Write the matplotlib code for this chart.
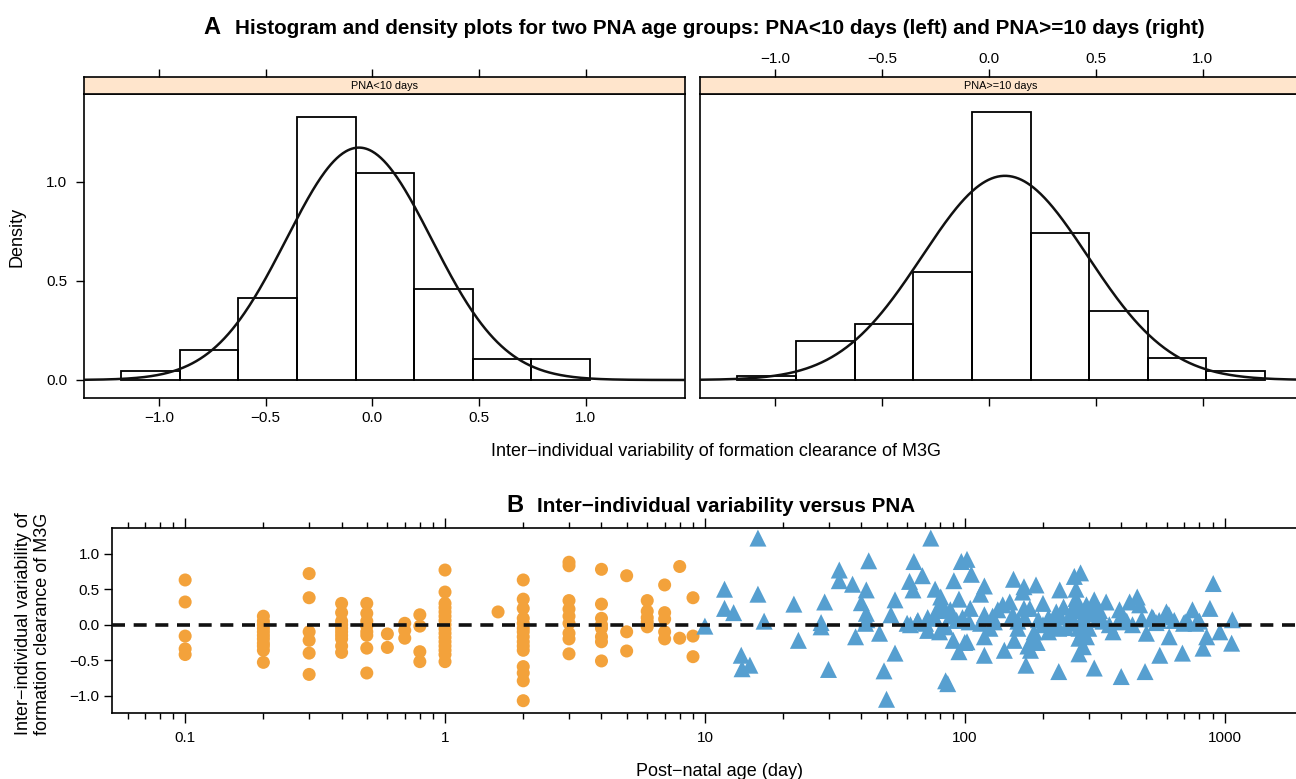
import numpy as np
import matplotlib
matplotlib.use("Agg")
import matplotlib.pyplot as plt
from matplotlib.ticker import LogLocator, FixedLocator, NullFormatter, FixedFormatter

plt.rcParams['font.family'] = ['Liberation Sans', 'DejaVu Sans']

# ---------------- Panel A data ----------------
bin_edges = [-1.176, -0.902, -0.628, -0.354, -0.079, 0.195, 0.469, 0.743, 1.017, 1.291]
density_lt10 = [0.046, 0.152, 0.414, 1.326, 1.044, 0.458, 0.108, 0.108]
density_ge10 = [0.022, 0.197, 0.285, 0.545, 1.354, 0.742, 0.350, 0.109, 0.044]
fit_lt10 = (-0.063, 0.340)   # mean, sd of fitted normal density
fit_ge10 = (0.075, 0.387)
strip_labels = ["PNA<10 days", "PNA>=10 days"]
a_xticks = [-1.0, -0.5, 0.0, 0.5, 1.0]
a_xticklabels = ["\u22121.0", "\u22120.5", "0.0", "0.5", "1.0"]
a_yticks = [0.0, 0.5, 1.0]
a_yticklabels = ["0.0", "0.5", "1.0"]

# ---------------- Panel B data ----------------
young_ages = [0.1, 0.2, 0.3, 0.4, 0.5, 0.6, 0.7, 0.8, 1.0, 1.6, 2.0, 3.0, 4.0, 5.0, 6.0, 7.0, 8.0, 9.0]
young_values = [
    [0.63, 0.32, -0.16, -0.34, -0.42],
    [0.12, 0.05, 0.0, -0.05, -0.10, -0.15, -0.20, -0.26, -0.30, -0.36, -0.53],
    [0.72, 0.38, -0.10, -0.22, -0.40, -0.70],
    [0.30, 0.17, 0.05, 0.0, -0.05, -0.10, -0.15, -0.20, -0.30, -0.39],
    [0.30, 0.16, 0.05, -0.02, -0.10, -0.15, -0.33, -0.68],
    [-0.13, -0.32],
    [0.02, -0.08, -0.19],
    [0.14, -0.02, -0.38, -0.52],
    [0.77, 0.46, 0.30, 0.24, 0.18, 0.12, 0.06, 0.0, -0.06, -0.12, -0.18, -0.24, -0.30, -0.36, -0.42, -0.52],
    [0.18],
    [0.63, 0.36, 0.23, 0.09, 0.02, -0.05, -0.10, -0.17, -0.24, -0.30, -0.36, -0.59, -0.68, -0.79, -1.07],
    [0.88, 0.83, 0.34, 0.22, 0.12, 0.02, -0.12, -0.20, -0.41],
    [0.78, 0.29, 0.09, 0.0, -0.05, -0.17, -0.24, -0.51],
    [0.69, -0.10, -0.37],
    [0.34, 0.19, 0.10, 0.04, -0.03],
    [0.56, 0.17, 0.08, -0.10, -0.20],
    [0.82, -0.19],
    [0.38, -0.16, -0.45],
]
old_points = [
    (10.0, -0.02), (11.9, 0.50), (11.9, 0.23), (12.9, 0.17), (16.0, 1.22), (16.0, 0.43), (16.9, 0.05),
    (13.8, -0.43), (13.9, -0.62), (14.9, -0.57),
    (22.0, 0.29), (22.9, -0.22), (28.9, 0.32), (28.0, 0.03), (28.0, -0.03), (29.9, -0.63),
    (32.9, 0.77), (32.9, 0.62), (37.0, 0.57), (38.0, -0.17), (42.7, 0.90), (41.8, 0.49), (40.0, 0.31),
    (41.8, 0.16), (42.0, 0.07), (41.5, 0.02), (47.0, -0.12), (48.9, -0.65), (50.0, -1.05), (53.9, -0.40),
    (52.0, 0.14), (53.9, 0.35), (61.3, 0.61), (63.2, 0.49), (63.7, 0.89), (68.7, 0.69), (61.8, 0.0),
    (65.6, 0.04), (70.7, 0.02), (74.0, 1.22), (76.9, 0.50), (80.8, 0.39), (76.9, 0.09), (83.2, 0.24),
    (84.4, -0.03), (90.3, -0.22), (95.0, -0.38), (90.8, 0.62), (95.0, 0.36), (97.0, 0.89), (102.0, 0.92),
    (84.4, -0.79), (86.0, -0.83), (88.0, 0.21), (100.0, -0.25),
    (60, 0.02), (66, 0.06), (72, 0.10), (78, 0.20), (82, 0.28), (88, 0.12), (93, 0.06), (98, 0.10),
    (72, -0.08), (80, -0.10),
    (106, 0.71), (119, 0.545), (115, 0.43), (154, 0.64), (169, 0.535), (188, 0.56), (167, 0.46), (232, 0.49),
    (264, 0.68), (279, 0.73), (268, 0.50), (268, 0.37), (149, 0.32), (134, 0.21), (119, 0.14), (105, 0.23),
    (104, 0.04), (130, 0.04), (153, 0.14), (169, 0.23), (178, 0.23), (200, 0.30), (218, -0.04), (234, 0.11),
    (245, -0.04), (275, -0.05), (275, -0.19), (286, -0.31), (275, -0.41), (315, 0.35), (350, 0.32), (323, 0.07),
    (315, -0.61), (394, 0.21), (372, -0.10), (431, 0.32), (461, 0.39), (442, 0.0), (500, -0.12), (525, 0.11),
    (597, 0.18), (610, 0.14), (612, -0.17), (563, -0.43), (494, -0.66), (400, -0.73), (230, -0.66), (172, -0.57),
    (179, -0.36), (183, -0.19), (155, -0.22), (142, -0.36), (119, -0.43), (119, -0.17), (102, -0.24),
    (688, -0.40), (752, 0.21), (878, 0.23), (904, 0.58), (853, -0.17), (959, -0.10), (1064, -0.26), (1071, 0.07),
    (826, -0.33), (724, 0.04),
    (294, 0.28), (217, 0.02), (389, 0.04), (695, 0.02), (776, 0.02), (471, 0.28), (531, 0.09), (294, -0.17),
    (258, 0.11), (600, 0.11),
    (255, 0.15), (262, 0.25), (272, 0.30), (280, 0.20), (285, 0.10), (290, 0.05), (300, 0.15), (310, 0.25),
    (330, 0.20), (265, 0.02), (285, -0.08), (300, -0.05), (340, 0.05), (360, 0.0), (410, 0.10), (420, 0.05),
    (480, 0.08), (545, 0.03), (560, 0.06), (640, 0.06), (705, 0.04), (800, 0.05), (128, 0.12), (140, 0.28),
    (160, 0.05), (170, 0.10), (192, 0.07), (200, 0.0), (210, 0.10), (225, 0.18), (240, 0.25), (115, 0.02),
    (125, -0.05), (185, -0.10), (190, -0.25), (175, -0.30), (160, -0.05), (210, -0.10), (230, -0.05),
]
b_yticks = [-1.0, -0.5, 0.0, 0.5, 1.0]
b_yticklabels = ["\u22121.0", "\u22120.5", "0.0", "0.5", "1.0"]
b_xticks = [0.1, 1, 10, 100, 1000]
b_xticklabels = ["0.1", "1", "10", "100", "1000"]

ORANGE = "#F3A23B"
BLUE = "#569FD0"
STRIP = "#FFE5CC"
TICK_FS = 11
LAB_FS = 13
TITLE_FS = 14.9
LETTER_FS = 17

W, H = 1296, 779
fig = plt.figure(figsize=(W / 100, H / 100), dpi=100)


def box(x0, y0, x1, y1):
    return [x0 / W, 1 - y1 / H, (x1 - x0) / W, (y1 - y0) / H]


xlim_a = (-1.351, 1.464)
ylim_a = (-0.091, 1.444)

panels = [
    (box(84, 94, 685, 398), box(84, 77, 685, 94), bin_edges[:len(density_lt10) + 1], density_lt10, fit_lt10, strip_labels[0], True),
    (box(700, 94, 1302, 398), box(700, 77, 1302, 94), bin_edges[:len(density_ge10) + 1], density_ge10, fit_ge10, strip_labels[1], False),
]

for rect, srect, edges, dens, fit, lab, is_left in panels:
    ax = fig.add_axes(rect)
    edges = np.array(edges)
    ax.bar(edges[:-1], dens, width=np.diff(edges), align='edge', fill=False,
           edgecolor='black', linewidth=1.3, zorder=2)
    xs = np.linspace(xlim_a[0], xlim_a[1], 600)
    mu, sd = fit
    ax.plot(xs, np.exp(-0.5 * ((xs - mu) / sd) ** 2) / (sd * np.sqrt(2 * np.pi)),
            color='#111111', lw=1.8, zorder=3)
    ax.set_xlim(*xlim_a)
    ax.set_ylim(*ylim_a)
    ax.xaxis.set_major_locator(FixedLocator(a_xticks))
    ax.tick_params(axis='x', direction='out', length=6, width=1, labelsize=TICK_FS, pad=3,
                   top=False, bottom=True, labelbottom=is_left)
    if is_left:
        ax.yaxis.set_major_locator(FixedLocator(a_yticks))
        ax.set_yticklabels(a_yticklabels)
        ax.tick_params(axis='y', direction='out', length=6, width=1, labelsize=TICK_FS, pad=6,
                       left=True, right=False)
        ax.set_xticklabels(a_xticklabels)
    else:
        ax.tick_params(axis='y', left=False, labelleft=False)
    for s in ax.spines.values():
        s.set_linewidth(1.2)

    sax = fig.add_axes(srect)
    sax.set_facecolor(STRIP)
    sax.set_xlim(*xlim_a)
    sax.set_ylim(0, 1)
    sax.xaxis.set_major_locator(FixedLocator(a_xticks))
    sax.xaxis.tick_top()
    sax.tick_params(axis='x', direction='out', length=6, width=1, labelsize=TICK_FS, pad=2,
                    top=True, bottom=False, labeltop=not is_left, labelbottom=False)
    if not is_left:
        sax.set_xticklabels(a_xticklabels)
    sax.tick_params(axis='y', left=False, labelleft=False)
    for s in sax.spines.values():
        s.set_linewidth(1.2)
    sax.text(0.5, 0.45, lab, transform=sax.transAxes, ha='center', va='center', fontsize=7.8)

# Titles / labels panel A
fig.text(203 / W, 1 - 27 / H, "A", fontsize=LETTER_FS, fontweight='bold', ha='left', va='center')
fig.text(235 / W, 1 - 28 / H,
         "Histogram and density plots for two PNA age groups: PNA<10 days (left) and PNA>=10 days (right)",
         fontsize=TITLE_FS, fontweight='bold', ha='left', va='center')
fig.text(17 / W, 1 - 237 / H, "Density", rotation=90, fontsize=LAB_FS, ha='center', va='center')
fig.text(716 / W, 1 - 451 / H, "Inter\u2212individual variability of formation clearance of M3G",
         fontsize=LAB_FS, ha='center', va='center')

# ---------------- Panel B ----------------
axb = fig.add_axes(box(112, 528, 1300, 712.7))
yx = []
yy = []
for a, vals in zip(young_ages, young_values):
    yx.extend([a] * len(vals))
    yy.extend(vals)
axb.scatter(yx, yy, s=88, marker='o', color=ORANGE, edgecolors='none', zorder=2)
ox = [p[0] for p in old_points]
oy = [p[1] for p in old_points]
axb.scatter(ox, oy, s=150, marker='^', color=BLUE, edgecolors='none', zorder=3)
axb.axhline(0, color='#111111', lw=2.6, ls=(0, (3.6, 2.4)), zorder=4)
axb.set_xscale('log')
axb.set_xlim(0.0523, 1950)
axb.set_ylim(-1.239, 1.362)
axb.xaxis.set_major_locator(FixedLocator(b_xticks))
axb.xaxis.set_major_formatter(FixedFormatter(b_xticklabels))
axb.xaxis.set_minor_locator(LogLocator(base=10, subs=np.arange(2, 10), numticks=20))
axb.xaxis.set_minor_formatter(NullFormatter())
axb.yaxis.set_major_locator(FixedLocator(b_yticks))
axb.set_yticklabels(b_yticklabels)
axb.tick_params(axis='x', which='major', direction='out', length=7, width=1, labelsize=TICK_FS,
                top=True, bottom=True, labeltop=False, pad=6)
axb.tick_params(axis='x', which='minor', direction='out', length=4, width=1, top=True, bottom=True)
axb.tick_params(axis='y', direction='out', length=6, width=1, labelsize=TICK_FS, pad=3)
for s in axb.spines.values():
    s.set_linewidth(1.2)

fig.text(506 / W, 1 - 505 / H, "B", fontsize=LETTER_FS, fontweight='bold', ha='left', va='center')
fig.text(537 / W, 1 - 506 / H, "Inter\u2212individual variability versus PNA",
         fontsize=TITLE_FS, fontweight='bold', ha='left', va='center')
fig.text(33 / W, 1 - 624 / H, "Inter\u2212individual variability of\nformation clearance of M3G",
         rotation=90, fontsize=LAB_FS, ha='center', va='center', linespacing=1.1)
fig.text(719 / W, 1 - 771 / H, "Post\u2212natal age (day)", fontsize=LAB_FS, ha='center', va='center')

fig.savefig("out.png", dpi=100)
